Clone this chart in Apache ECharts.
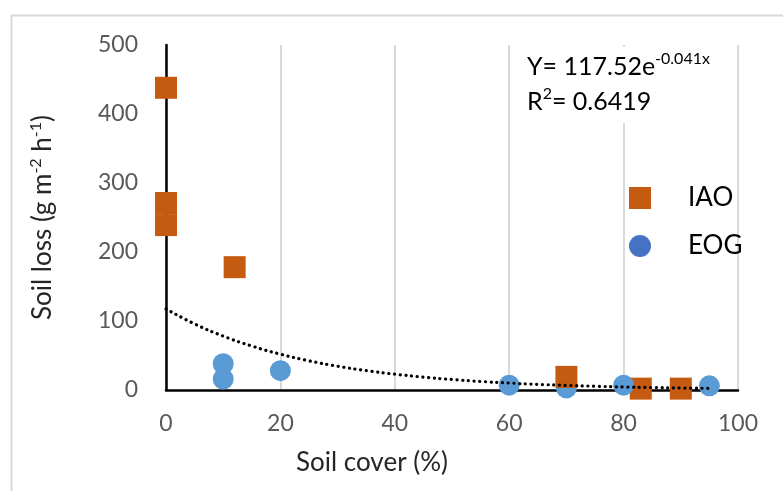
<!DOCTYPE html>
<html>
<head>
<meta charset="utf-8">
<script src="https://cdn.jsdelivr.net/npm/echarts@6/dist/echarts.min.js"></script>
<style>
html,body{margin:0;padding:0;background:#fff;}
#chart{width:783px;height:491px;}
</style>
</head>
<body>
<div id="chart"></div>
<script>
// Data
var iaoFront = [[0, 438], [0, 271], [0, 239], [12, 178], [70, 19]];
var iaoBack = [[83, 2], [90, 2]];
var eogPoints = [[10, 38], [10, 16], [20, 28], [60, 7], [70, 3], [80, 7], [95, 6]];
// Trend line values
var trendX = [0, 5, 10, 15, 20, 25, 30, 35, 40, 45, 50, 55, 60, 65, 70, 75, 80, 85, 90, 95];
var trendY = [117.5, 95.8, 78.1, 63.7, 51.9, 42.3, 34.5, 28.1, 22.9, 18.7, 15.2, 12.4, 10.1, 8.2, 6.7, 5.5, 4.4, 3.6, 2.9, 2.4];
var xTicks = [0, 20, 40, 60, 80, 100];
var yTicks = [0, 100, 200, 300, 400, 500];

var FONT = 'Lato';
var trendData = trendX.map(function (x, i) { return [x, trendY[i]]; });

var supRich = function (big, small, lh, pad, color) {
  return {
    a: { fontSize: big, fill: color, color: color, fontFamily: FONT, lineHeight: lh, verticalAlign: 'middle' },
    s: { fontSize: small, fill: color, color: color, fontFamily: FONT, lineHeight: small, verticalAlign: 'top', padding: [pad, 0, 0, 0] }
  };
};

var chart = echarts.init(document.getElementById('chart'));
chart.setOption({
  backgroundColor: '#fff',
  animation: false,
  textStyle: { fontFamily: FONT },
  grid: { left: 166, right: 45, top: 45, bottom: 101, containLabel: false },
  xAxis: {
    type: 'value', min: xTicks[0], max: xTicks[xTicks.length - 1], interval: 20,
    axisLine: { show: true, onZero: false, lineStyle: { color: '#000', width: 2.5 } },
    axisTick: { show: false },
    axisLabel: { fontSize: 23, color: '#595959', margin: 22, fontFamily: FONT },
    splitLine: { show: true, lineStyle: { color: '#D9D9D9', width: 2 } }
  },
  yAxis: {
    type: 'value', min: yTicks[0], max: yTicks[yTicks.length - 1], interval: 100,
    axisLine: { show: true, onZero: false, lineStyle: { color: '#000', width: 2.5 } },
    axisTick: { show: false },
    axisLabel: { fontSize: 23, color: '#595959', margin: 28, fontFamily: FONT },
    splitLine: { show: false },
    name: '{a|Soil loss (g m}{s|-2}{a| h}{s|-1}{a|)}',
    nameLocation: 'middle',
    nameRotate: 90,
    nameGap: 108,
    nameTextStyle: { rich: supRich(26, 16, 30, 0, '#262626') }
  },
  legend: {
    orient: 'vertical',
    left: 624, top: 180,
    itemWidth: 22, itemHeight: 22, itemGap: 22,
    textStyle: { fontSize: 26, color: '#000', fontFamily: FONT, padding: [0, 0, 0, 32] },
    data: [
      { name: 'IAO', icon: 'rect', itemStyle: { color: '#C55A11' } },
      { name: 'EOG', icon: 'circle', itemStyle: { color: '#4472C4' } }
    ]
  },
  graphic: [
    { type: 'rect', left: 9, top: 13, shape: { width: 790, height: 490 }, style: { fill: 'none', stroke: '#D9D9D9', lineWidth: 2 }, z: 0, silent: true },
    {
      type: 'text', left: 521, top: 47, z: 100,
      style: {
        text: '{a|Y= 117.52e}{s|-0.041x}\n{a|R}{s|2}{a|= 0.6419}',
        backgroundColor: '#fff',
        padding: [2, 6, 4, 6],
        rich: supRich(25, 16, 35, 2, '#000')
      }
    },
    {
      type: 'text', left: 296, top: 450, z: 100,
      style: { text: 'Soil cover (%)', fontSize: 26, fill: '#262626', fontFamily: FONT }
    }
  ],
  series: [
    {
      name: 'EOG', type: 'scatter', data: eogPoints, symbol: 'circle', symbolSize: 21, z: 3,
      itemStyle: { color: '#5B9BD5', opacity: 1 }
    },
    {
      name: 'IAO', type: 'scatter', data: iaoFront, symbol: 'rect', symbolSize: 22, z: 4,
      itemStyle: { color: '#C55A11', opacity: 1 }
    },
    {
      name: 'IAO', type: 'scatter', data: iaoBack, symbol: 'rect', symbolSize: 22, z: 2,
      itemStyle: { color: '#C55A11', opacity: 1 }
    },
    {
      name: 'trend', type: 'line', data: trendData, smooth: true, showSymbol: false, symbol: 'none', z: 6,
      lineStyle: { color: '#000', width: 3.2, type: [0.1, 5.6], cap: 'round' }
    }
  ]
});
</script>
</body>
</html>
